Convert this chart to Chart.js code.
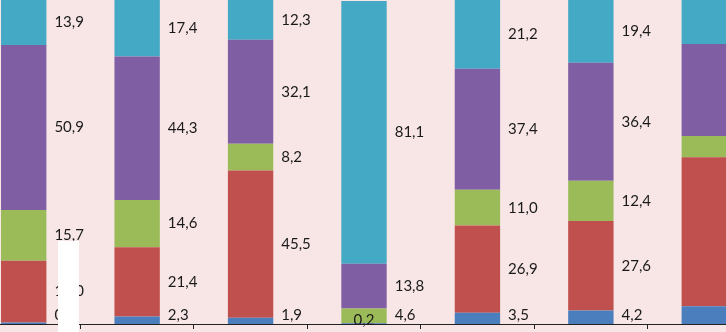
<!DOCTYPE html>
<html>
<head>
<meta charset="utf-8">
<script src="https://cdn.jsdelivr.net/npm/chart.js@4"></script>
<style>
  html, body { margin: 0; padding: 0; }
  body { width: 726px; height: 332px; overflow: hidden; position: relative; background: #f8e6e6; }
  #wrap { position: absolute; left: -33px; top: 0; width: 794px; height: 332px; }
  #cover { position: absolute; left: 58px; top: 241px; width: 21px; height: 91px; background: #ffffff; }
</style>
</head>
<body>
<div id="wrap"><canvas id="myChart"></canvas></div>
<div id="cover"></div>
<script>
// categories are not shown on the picture
const categories = ['1', '2', '3', '4', '5', '6', '7'];

// series values, bottom to top
const blueValues   = [0.5, 2.3, 1.9, 0.2, 3.5, 4.2, 5.5];
const redValues    = [19.0, 21.4, 45.5, 0, 26.9, 27.6, 46.0];
const greenValues  = [15.7, 14.6, 8.2, 4.6, 11.0, 12.4, 6.5];
const purpleValues = [50.9, 44.3, 32.1, 13.8, 37.4, 36.4, 28.4];
const cyanValues   = [13.9, 17.4, 12.3, 81.1, 21.2, 19.4, 13.6];

// last bar has no labels in the picture (cut off)
const labelledBars = [true, true, true, true, true, true, false];

// data labels beside each segment
const labelPlugin = {
  id: 'segmentLabels',
  afterDatasetsDraw(chart) {
    const ctx = chart.ctx;
    ctx.save();
    ctx.font = '15px Lato';
    ctx.fillStyle = '#1a1a1a';
    ctx.textBaseline = 'middle';
    chart.data.datasets.forEach((ds, di) => {
      const meta = chart.getDatasetMeta(di);
      meta.data.forEach((bar, i) => {
        const v = ds.data[i];
        if (!v || !labelledBars[i]) return;
        const text = v.toFixed(1).replace('.', ',');
        const mid = (bar.y + bar.base) / 2;
        if (v < 0.3) {
          // tiny segment: label sits on the bar
          ctx.textAlign = 'center';
          ctx.fillText(text, bar.x, Math.min(mid, 320));
        } else {
          ctx.textAlign = 'left';
          ctx.fillText(text, bar.x + bar.width / 2 + 8, Math.min(mid, 315.5));
        }
      });
    });
    ctx.restore();
  }
};

const myChart = document.getElementById('myChart');

let barChart = new Chart(myChart, {
  type: 'bar',
  data: {
    labels: categories,
    datasets: [
      { label: 'blue',   data: blueValues,   backgroundColor: '#4a7ebd' },
      { label: 'red',    data: redValues,    backgroundColor: '#c0504d' },
      { label: 'green',  data: greenValues,  backgroundColor: '#9bbb59' },
      { label: 'purple', data: purpleValues, backgroundColor: '#7f5ea3' },
      { label: 'cyan',   data: cyanValues,   backgroundColor: '#43a9c5' }
    ]
  },
  options: {
    responsive: true,
    maintainAspectRatio: false,
    animation: false,
    layout: { padding: 0 },
    barPercentage: 0.4,
    categoryPercentage: 1,
    plugins: {
      legend: { display: false },
      tooltip: { enabled: false }
    },
    scales: {
      x: {
        stacked: true,
        offset: true,
        grid: { display: true, drawOnChartArea: false, drawTicks: true, tickLength: 5, color: '#222', offset: true },
        border: { display: true, color: '#222', width: 1 },
        ticks: { display: false },
        afterFit(scale) { scale.height = 8; }
      },
      y: {
        stacked: true,
        display: false,
        min: 0,
        max: 100
      }
    }
  },
  plugins: [labelPlugin]
});
</script>
</body>
</html>
